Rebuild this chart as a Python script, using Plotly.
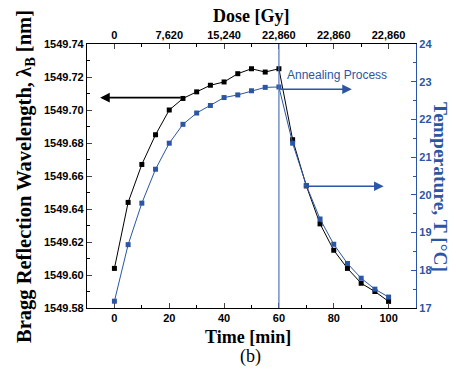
import plotly.graph_objects as go

time_min = [0, 5, 10, 15, 20, 25, 30, 35, 40, 45, 50, 55, 60, 65, 70, 75, 80, 85, 90, 95, 100]
wavelength_nm = [1549.604, 1549.644, 1549.667, 1549.685, 1549.700, 1549.707, 1549.711, 1549.715,
                 1549.717, 1549.722, 1549.725, 1549.723, 1549.725, 1549.682, 1549.654, 1549.631,
                 1549.615, 1549.604, 1549.595, 1549.590, 1549.584]
temperature_c = [17.18, 18.68, 19.78, 20.68, 21.37, 21.87, 22.17, 22.37, 22.58, 22.65, 22.76,
                 22.85, 22.86, 21.37, 20.25, 19.36, 18.69, 18.18, 17.79, 17.50, 17.29]
time_ticks = [0, 20, 40, 60, 80, 100]
dose_ticks = ["0", "7,620", "15,240", "22,860", "22,860", "22,860"]

BLUE = "#2B55A5"
LBLUE = "#4F74BA"
tickfont = dict(family="Liberation Sans, Arial", size=11, color="black", weight="bold")
titlefont = dict(family="Liberation Serif, Times New Roman", size=18, color="black", weight="bold")

# page body has an 8px default margin, so the figure is drawn 8px smaller and
# all target pixel positions are shifted by -8
OFF = 8
W, H = 456 - OFF, 374 - OFF
L, R, T, B = 87 - OFF, 48 - OFF, 44 - OFF, 74 - OFF

def px(x, y):
    x, y = x - OFF, y - OFF
    return (x - L) / (W - L - R), 1 - (y - T) / (H - T - B)

fig = go.Figure()
fig.add_trace(go.Scatter(x=time_min, y=wavelength_nm, mode="lines+markers",
                         line=dict(color="black", width=1),
                         marker=dict(symbol="square", size=5, color="black"),
                         showlegend=False))
fig.add_trace(go.Scatter(x=time_min, y=temperature_c, mode="lines+markers", yaxis="y2",
                         line=dict(color=BLUE, width=1),
                         marker=dict(symbol="square", size=5, color=BLUE),
                         showlegend=False))
# invisible trace to anchor the top (dose) axis
fig.add_trace(go.Scatter(x=time_min, y=wavelength_nm, xaxis="x2", mode="markers",
                         marker=dict(opacity=0), hoverinfo="skip", showlegend=False))

fig.add_shape(type="line", x0=60, x1=60, y0=0, y1=1, xref="x", yref="paper",
              line=dict(color=LBLUE, width=1.2))

# arrows
fig.add_annotation(x=-5.2, y=1549.7075, ax=24.7, ay=1549.7075, xref="x", yref="y",
                   axref="x", ayref="y", showarrow=True, arrowhead=2, arrowsize=1.2,
                   arrowwidth=1.6, arrowcolor="black", text="")
fig.add_annotation(x=86.6, y=22.8, ax=60, ay=22.8, xref="x", yref="y2",
                   axref="x", ayref="y2", showarrow=True, arrowhead=2, arrowsize=1.2,
                   arrowwidth=1.6, arrowcolor=BLUE, text="")
fig.add_annotation(x=98.2, y=20.23, ax=69.7, ay=20.23, xref="x", yref="y2",
                   axref="x", ayref="y2", showarrow=True, arrowhead=2, arrowsize=1.2,
                   arrowwidth=1.6, arrowcolor=BLUE, text="")
fig.add_annotation(x=81.2, y=23.18, xref="x", yref="y2", showarrow=False,
                   text="Annealing Process",
                   font=dict(family="Liberation Sans, Arial", size=12, color=BLUE))

# axis titles (positions given in target pixels, converted to paper coords)
titles = [
    (25, 177, "Bragg Reflection Wavelength, λ<sub>B</sub> [nm]", -90, dict(titlefont, size=20.5)),
    (441, 187, "Temperature, T [°C]", 90, dict(titlefont, color=BLUE, size=19.5)),
    (248, 337, "Time [min]", 0, titlefont),
    (250, 356, "(b)", 0, dict(family="Liberation Serif, Times New Roman", size=18, color="black")),
    (251, 16, "Dose [Gy]", 0, titlefont),
]
for x, y, txt, ang, f in titles:
    xp, yp = px(x, y)
    fig.add_annotation(x=xp, y=yp, xref="paper", yref="paper", text=txt, showarrow=False,
                       textangle=ang, font=f, xanchor="center", yanchor="middle")

common_x = dict(range=[-10, 110], tickvals=time_ticks, ticks="inside", ticklen=5,
                tickwidth=1, showline=True, linewidth=1.2, linecolor="black",
                showgrid=False, zeroline=False, tickfont=tickfont, automargin=False,
                minor=dict(tickvals=[10, 30, 50, 70, 90], ticks="inside", ticklen=3,
                           tickcolor="black"))
fig.update_layout(
    width=W, height=H, margin=dict(l=L, r=R, t=T, b=B, autoexpand=False),
    paper_bgcolor="white", plot_bgcolor="white",
    xaxis=dict(common_x),
    xaxis2=dict(common_x, overlaying="x", side="top", ticktext=dose_ticks),
    yaxis=dict(range=[1549.58, 1549.74], dtick=0.02, tickformat=".2f", ticks="inside",
               ticklen=5, showline=True, linewidth=1.2, linecolor="black", showgrid=False,
               zeroline=False, tickfont=tickfont, automargin=False,
               minor=dict(dtick=0.01, ticks="inside", ticklen=3, tickcolor="black")),
    yaxis2=dict(range=[17, 24], dtick=1, overlaying="y", side="right", ticks="inside",
                ticklen=5, tickcolor=BLUE, showline=True, linewidth=1.2, linecolor=BLUE,
                showgrid=False, zeroline=False, tickfont=dict(tickfont, color=BLUE),
                automargin=False,
                minor=dict(dtick=0.5, ticks="inside", ticklen=3, tickcolor=BLUE)),
)
fig.write_html("out.html")
